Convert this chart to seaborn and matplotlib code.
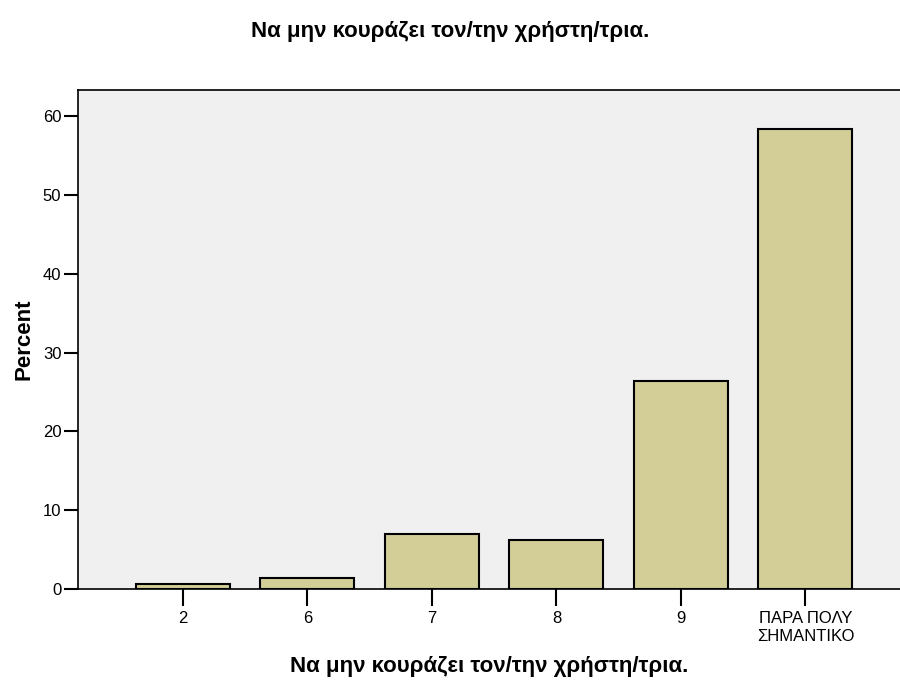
import matplotlib
matplotlib.use("Agg")
import matplotlib.pyplot as plt
import seaborn as sns
import pandas as pd

categories = ["2", "6", "7", "8", "9", "ΠΑΡΑ ΠΟΛΥ\nΣΗΜΑΝΤΙΚΟ"]
percent = [0.69, 1.39, 6.94, 6.25, 26.39, 58.33]
yticks = [0, 10, 20, 30, 40, 50, 60]
title = "Να μην κουράζει τον/την χρήστη/τρια."

sns.set_style("white")
plt.rcParams['font.family'] = ['Liberation Sans', 'DejaVu Sans']
plt.rcParams['text.color'] = 'black'
plt.rcParams['axes.labelcolor'] = 'black'
plt.rcParams['xtick.color'] = 'black'
plt.rcParams['ytick.color'] = 'black'

df = pd.DataFrame({"cat": categories, "pct": percent})

fig = plt.figure(figsize=(9, 6.83), dpi=100)
ax = fig.add_axes([78/900, 1 - 589/683, 822/900, (589 - 90)/683])
ax.set_facecolor("#F0F0F0")

sns.barplot(data=df, x="cat", y="pct", order=categories, color="#D3CE97",
            saturation=1, edgecolor="black", linewidth=1.5, width=0.755, ax=ax)

ax.set_xlim(-0.843, 5.76)
ax.set_ylim(0, 63.3)
ax.set_yticks(yticks)
ax.set_yticklabels([str(t) for t in yticks], fontsize=12)
ax.set_xticklabels(categories, fontsize=12, multialignment="center")
ax.tick_params(axis="y", direction="out", length=10, width=1.5, colors="black", pad=2, left=True)
ax.tick_params(axis="x", direction="out", length=12, width=1.5, colors="black", pad=4, bottom=True)

for s in ["left", "bottom", "top"]:
    ax.spines[s].set_visible(True)
    ax.spines[s].set_color("black")
    ax.spines[s].set_linewidth(1.2)
ax.spines["right"].set_visible(False)

ax.set_xlabel(title, fontsize=16, fontweight="bold", labelpad=9)
ax.set_ylabel("Percent", fontsize=16, fontweight="bold", labelpad=6)
fig.text(0.5, 1 - 31/683, title, ha="center", va="center", fontsize=16, fontweight="bold")

fig.savefig("out.png", dpi=100)
